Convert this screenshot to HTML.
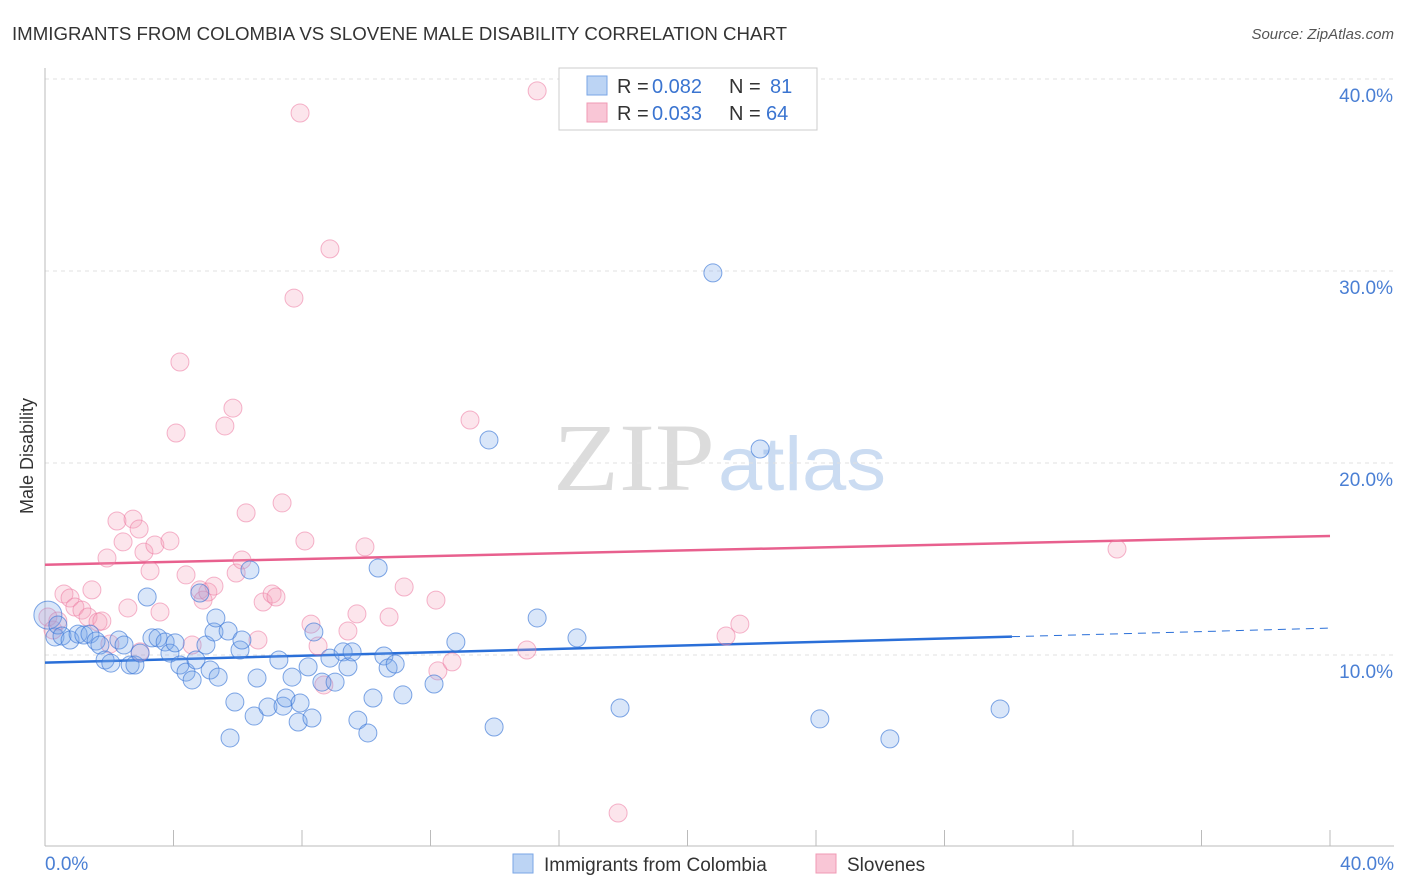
<!DOCTYPE html>
<html><head><meta charset="utf-8"><style>
body{margin:0;background:#fff;font-family:"Liberation Sans",sans-serif;}
#c{position:relative;width:1406px;height:892px;overflow:hidden;}
</style></head><body>
<div id="c">
<svg id="svg" width="1406" height="892" xmlns="http://www.w3.org/2000/svg">
<text x="12" y="40" font-size="18" fill="#333" textLength="775" lengthAdjust="spacingAndGlyphs">IMMIGRANTS FROM COLOMBIA VS SLOVENE MALE DISABILITY CORRELATION CHART</text>
<text x="1394" y="39" font-size="15" fill="#555" font-style="italic" text-anchor="end">Source: ZipAtlas.com</text>
<text x="33" y="456" font-size="18" fill="#333" text-anchor="middle" transform="rotate(-90 33 456)">Male Disability</text>
<g><text x="553" y="490" font-size="96" font-family="Liberation Serif" fill="#dcdcdc" textLength="162" lengthAdjust="spacingAndGlyphs">ZIP</text><text x="718" y="490" font-size="76" fill="#cbdcf2" textLength="168" lengthAdjust="spacingAndGlyphs">atlas</text></g>
<g id="grid"></g><g id="lines"></g><g id="pts"></g>
<g>
<rect x="559" y="68" width="258" height="62" fill="#fff" stroke="#ccc"/>
<rect x="587" y="76" width="20" height="19" fill="#bcd4f4" stroke="#7aa6e6"/>
<rect x="587" y="103" width="20" height="19" fill="#f9c6d6" stroke="#f09ab4"/>
<text y="93" font-size="20" fill="#333"><tspan x="617">R =</tspan><tspan x="652" fill="#3a74d0">0.082</tspan><tspan x="729">N =</tspan><tspan x="770" fill="#3a74d0">81</tspan></text>
<text y="120" font-size="20" fill="#333"><tspan x="617">R =</tspan><tspan x="652" fill="#3a74d0">0.033</tspan><tspan x="729">N =</tspan><tspan x="766" fill="#3a74d0">64</tspan></text>
</g>
<g>
<rect x="513" y="854" width="20" height="19" fill="#bcd4f4" stroke="#7aa6e6"/>
<text x="544" y="871" font-size="19" fill="#333">Immigrants from Colombia</text>
<rect x="816" y="854" width="20" height="19" fill="#f9c6d6" stroke="#f09ab4"/>
<text x="847" y="871" font-size="19" fill="#333">Slovenes</text>
</g>
</svg>
</div>
<script>
const blueX=[0.09,0.31,0.40,0.53,0.78,1.03,1.21,1.40,1.59,1.71,1.87,2.05,2.30,2.46,2.65,2.80,2.96,3.18,3.33,3.52,3.74,3.89,4.05,4.20,4.39,4.58,4.70,4.82,5.01,5.14,5.26,5.32,5.39,5.70,5.76,5.91,6.07,6.13,6.38,6.51,6.60,6.94,7.28,7.41,7.50,7.69,7.88,7.94,8.19,8.31,8.37,8.62,8.87,9.03,9.28,9.43,9.56,9.74,10.05,10.21,10.37,10.55,10.68,10.90,11.14,12.11,12.79,13.82,13.98,15.32,16.56,17.90,20.79,22.26,24.12,26.30,29.73];
const blueY=[12.08,10.94,11.56,10.99,10.78,11.09,11.04,11.09,10.73,10.52,9.74,9.58,10.78,10.52,9.48,9.48,10.10,13.02,10.89,10.89,10.68,10.10,10.63,9.48,9.11,8.70,9.74,13.23,10.52,9.22,11.20,11.93,8.85,11.25,5.68,7.55,10.26,10.78,14.43,6.82,8.80,7.29,9.74,7.34,7.76,8.85,6.51,7.50,9.38,6.72,11.20,8.59,9.84,8.59,10.16,9.38,10.16,6.61,5.94,7.76,14.53,9.95,9.32,9.53,7.92,8.49,10.68,21.20,6.25,11.93,10.89,7.24,29.90,20.73,6.67,5.63,7.19];
const pinkX=[0.09,0.25,0.40,0.59,0.78,0.93,1.15,1.34,1.46,1.65,1.77,1.93,2.02,2.24,2.43,2.58,2.74,2.93,2.96,3.08,3.27,3.42,3.58,3.89,4.08,4.20,4.39,4.58,4.82,4.92,5.07,5.26,5.60,5.85,5.95,6.13,6.26,6.63,6.79,7.07,7.19,7.38,7.75,7.94,8.09,8.28,8.50,8.68,8.87,9.43,9.71,9.96,10.71,11.18,12.17,12.23,12.67,13.23,15.00,15.32,17.84,21.20,21.63,33.37];
const pinkY=[11.98,11.30,11.77,13.18,12.97,12.50,12.34,11.98,13.39,11.72,11.77,15.05,10.57,16.98,15.89,12.45,17.08,16.56,10.16,15.36,14.38,15.73,12.24,15.94,21.56,25.26,14.17,10.52,13.39,12.86,13.28,13.59,21.93,22.86,14.27,14.95,17.40,10.78,12.76,13.18,13.02,17.92,28.59,38.23,15.94,11.61,10.47,8.44,31.15,11.25,12.14,15.63,11.98,13.54,12.86,9.17,9.64,22.24,10.26,39.38,1.77,10.99,11.61,15.52];
const blueTrend=[9.6,11.4]; const blueSolidEnd=30.1;
const pinkTrend=[14.7,16.2];
const yTicks=[10,20,30,40];
const yTickLabels=["10.0%","20.0%","30.0%","40.0%"];
const xTicks=[0,4,8,12,16,20,24,28,32,36,40];
const xLabels=["0.0%","40.0%"];
const NS="http://www.w3.org/2000/svg";
const X=v=>45+v*32.125, Y=v=>847-v*19.2;
function mk(t,a,p){const e=document.createElementNS(NS,t);for(const k in a)e.setAttribute(k,a[k]);p.appendChild(e);return e;}
const g=document.getElementById('grid'),L=document.getElementById('lines'),P=document.getElementById('pts');
yTicks.forEach((t,i)=>{const l=mk('line',{x1:45,x2:1394,y1:Y(t),y2:Y(t),stroke:'#e0e0e0','stroke-dasharray':'4,4'},g);


const tx=mk('text',{x:1393,y:Y(t)+23,'font-size':19,fill:'#4a7fd4','text-anchor':'end'},g);tx.textContent=yTickLabels[i];

});
const ax=mk('line',{x1:45,x2:45,y1:68,y2:846,stroke:'#bbb'},g);


const bx=mk('line',{x1:45,x2:1394,y1:846,y2:846,stroke:'#bbb'},g);


xTicks.forEach(t=>{const l=mk('line',{x1:X(t),x2:X(t),y1:830,y2:846,stroke:'#bbb'},g);

});
[[0,'start',45],[40,'end',1394]].forEach((d,i)=>{const tx=mk('text',{x:d[2],y:870,'font-size':19,fill:'#4a7fd4','text-anchor':d[1]},g);tx.textContent=xLabels[i];

});
function drawPts(xs,ys,fill,stroke,name){xs.forEach((x,i)=>{const c=mk('circle',{cx:X(x),cy:Y(ys[i]),r:i===0&&name==='colombia-point'?14:9,fill:fill,stroke:stroke,'stroke-width':1},P);

});}
drawPts(pinkX,pinkY,'rgba(244,160,188,0.28)','rgba(236,120,160,0.55)','slovene-point');
drawPts(blueX,blueY,'rgba(120,165,232,0.28)','rgba(60,120,215,0.65)','colombia-point');
const bAt=x=>blueTrend[0]+(blueTrend[1]-blueTrend[0])*x/40;
const b1=mk('line',{x1:X(0),y1:Y(bAt(0)),x2:X(blueSolidEnd),y2:Y(bAt(blueSolidEnd)),stroke:'#2a6fd8','stroke-width':2.5},L);


const b2=mk('line',{x1:X(blueSolidEnd),y1:Y(bAt(blueSolidEnd)),x2:X(40),y2:Y(bAt(40)),stroke:'#2a6fd8','stroke-width':1,'stroke-dasharray':'8,6'},L);


const p1=mk('line',{x1:X(0),y1:Y(pinkTrend[0]),x2:X(40),y2:Y(pinkTrend[1]),stroke:'#e8608e','stroke-width':2.5},L);


</script>
</body></html>
